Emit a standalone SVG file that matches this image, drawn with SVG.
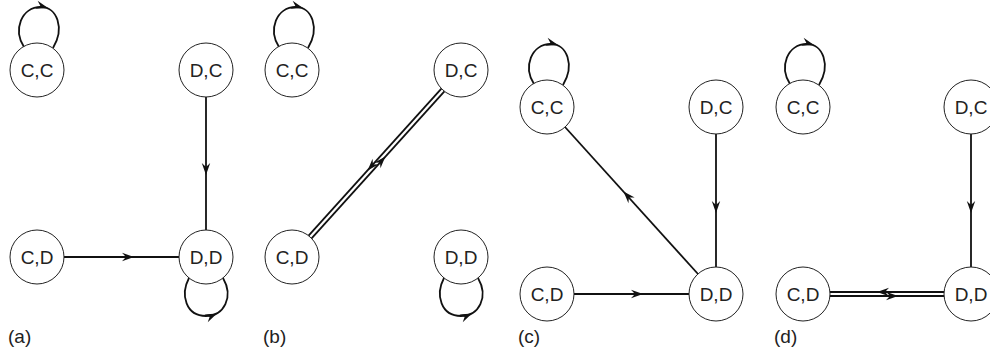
<svg xmlns="http://www.w3.org/2000/svg" xmlns:xlink="http://www.w3.org/1999/xlink" width="990" height="355" viewBox="0 0 990 355">
<style>
.node circle{fill:#fff;stroke:#222;stroke-width:1}
.node text{font-family:"Liberation Sans",Arial,sans-serif;font-size:19px;fill:#222;text-anchor:middle}
.edge{fill:none;stroke:#111;stroke-width:1.8}
.ah{fill:#111;stroke:none}
.lbl{font-family:"Liberation Sans",Arial,sans-serif;font-size:19px;fill:#222}
</style>
<defs>
<path id="ah" class="ah" d="M0,0 L-12,-4.2 L-8,0 L-12,4.2 Z"/>
<g id="loopTop">
<path class="edge" d="M-13,-23 C-24,-40 -16,-63 4,-63 C20,-63 28,-42 16,-22"/>
<use xlink:href="#ah" href="#ah" transform="translate(11,-62) rotate(16)"/>
</g>
<g id="loopBot">
<path class="edge" d="M-17,21 C-26,38 -20,59 0,59 C18,59 28,40 17,21"/>
<use xlink:href="#ah" href="#ah" transform="translate(11,56.5) rotate(-24)"/>
</g>
</defs>
<rect width="990" height="355" fill="#fff"/>
<g id="connectors">
<!-- (a) -->
<use xlink:href="#loopTop" href="#loopTop" transform="translate(37,70)"/>
<use xlink:href="#loopBot" href="#loopBot" transform="translate(206,257)"/>
<line class="edge" x1="206" y1="97" x2="206" y2="230"/>
<use xlink:href="#ah" href="#ah" transform="translate(206,175) rotate(90)"/>
<line class="edge" x1="64" y1="257" x2="179" y2="257"/>
<use xlink:href="#ah" href="#ah" transform="translate(134,257)"/>
<!-- (b) -->
<use xlink:href="#loopTop" href="#loopTop" transform="translate(292,70)"/>
<use xlink:href="#loopBot" href="#loopBot" transform="translate(461,257)"/>
<line class="edge" x1="308.6" y1="235.7" x2="441.4" y2="88.7"/>
<line class="edge" x1="311.6" y1="238.3" x2="444.4" y2="91.3"/>
<use xlink:href="#ah" href="#ah" transform="translate(367.6,170.4) rotate(132.1)"/>
<use xlink:href="#ah" href="#ah" transform="translate(385.4,156.6) rotate(-47.9)"/>
<!-- (c) -->
<use xlink:href="#loopTop" href="#loopTop" transform="translate(547,107)"/>
<line class="edge" x1="716" y1="134" x2="716" y2="267"/>
<use xlink:href="#ah" href="#ah" transform="translate(716,213) rotate(90)"/>
<line class="edge" x1="574" y1="294" x2="689" y2="294"/>
<use xlink:href="#ah" href="#ah" transform="translate(643,294)"/>
<line class="edge" x1="698" y1="274" x2="565" y2="127"/>
<use xlink:href="#ah" href="#ah" transform="translate(623.5,191.5) rotate(-132.1)"/>
<!-- (d) -->
<use xlink:href="#loopTop" href="#loopTop" transform="translate(803,107)"/>
<line class="edge" x1="971" y1="134" x2="971" y2="267"/>
<use xlink:href="#ah" href="#ah" transform="translate(971,213) rotate(90)"/>
<line class="edge" x1="830" y1="292" x2="944" y2="292"/>
<line class="edge" x1="830" y1="296" x2="944" y2="296"/>
<use xlink:href="#ah" href="#ah" transform="translate(877,292) rotate(180)"/>
<use xlink:href="#ah" href="#ah" transform="translate(898,296)"/>
</g>
<!-- (a) nodes -->
<g id="a-CC" class="node"><circle cx="37" cy="70" r="27"/><text x="37" y="77">C,C</text></g>
<g id="a-DC" class="node"><circle cx="206" cy="70" r="27"/><text x="206" y="77">D,C</text></g>
<g id="a-CD" class="node"><circle cx="37" cy="257" r="27"/><text x="37" y="264">C,D</text></g>
<g id="a-DD" class="node"><circle cx="206" cy="257" r="27"/><text x="206" y="264">D,D</text></g>
<!-- (b) nodes -->
<g id="b-CC" class="node"><circle cx="292" cy="70" r="27"/><text x="292" y="77">C,C</text></g>
<g id="b-DC" class="node"><circle cx="461" cy="70" r="27"/><text x="461" y="77">D,C</text></g>
<g id="b-CD" class="node"><circle cx="292" cy="257" r="27"/><text x="292" y="264">C,D</text></g>
<g id="b-DD" class="node"><circle cx="461" cy="257" r="27"/><text x="461" y="264">D,D</text></g>
<!-- (c) nodes -->
<g id="c-CC" class="node"><circle cx="547" cy="107" r="27"/><text x="547" y="114">C,C</text></g>
<g id="c-DC" class="node"><circle cx="716" cy="107" r="27"/><text x="716" y="114">D,C</text></g>
<g id="c-CD" class="node"><circle cx="547" cy="294" r="27"/><text x="547" y="301">C,D</text></g>
<g id="c-DD" class="node"><circle cx="716" cy="294" r="27"/><text x="716" y="301">D,D</text></g>
<!-- (d) nodes -->
<g id="d-CC" class="node"><circle cx="803" cy="107" r="27"/><text x="803" y="114">C,C</text></g>
<g id="d-DC" class="node"><circle cx="971" cy="107" r="27"/><text x="971" y="114">D,C</text></g>
<g id="d-CD" class="node"><circle cx="803" cy="294" r="27"/><text x="803" y="301">C,D</text></g>
<g id="d-DD" class="node"><circle cx="971" cy="294" r="27"/><text x="971" y="301">D,D</text></g>
<g id="labels">
<text class="lbl" x="8" y="343">(a)</text>
<text class="lbl" x="263" y="343">(b)</text>
<text class="lbl" x="518" y="343">(c)</text>
<text class="lbl" x="774" y="343">(d)</text>
</g>
</svg>
